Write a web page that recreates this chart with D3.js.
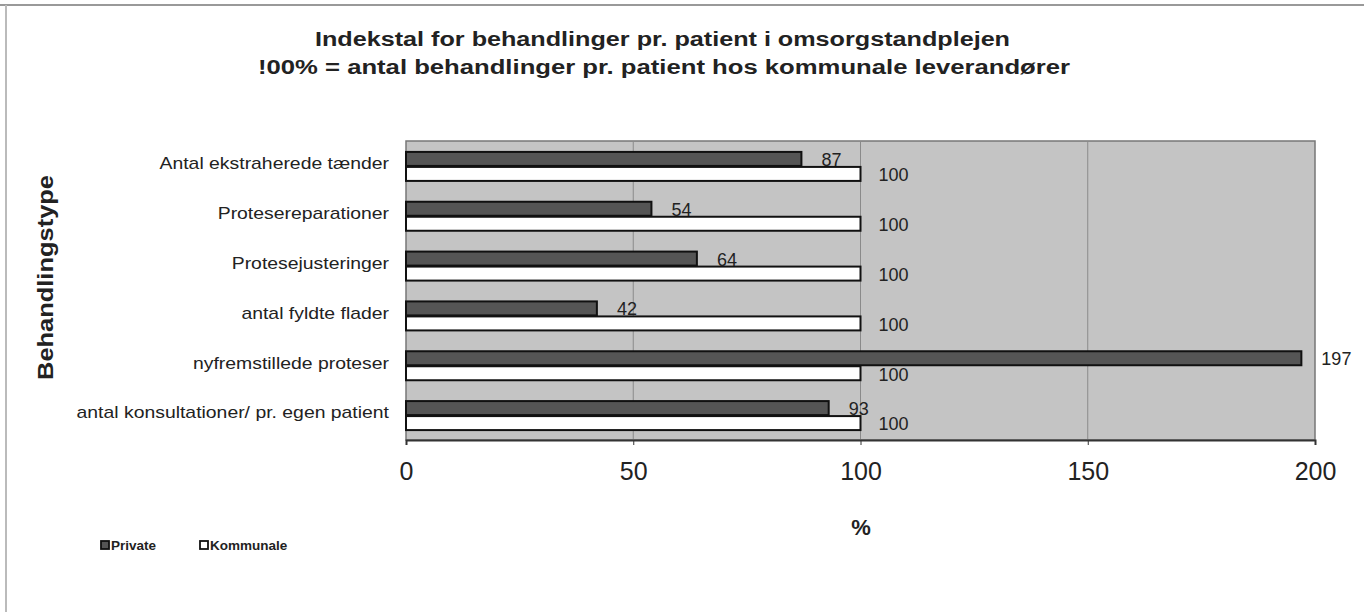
<!DOCTYPE html>
<html><head><meta charset="utf-8">
<script src="https://cdn.jsdelivr.net/npm/d3@7"></script>
<style>body{margin:0;background:#fff;} text{font-family:"Liberation Sans",Arial,sans-serif;}</style>
</head><body>
<svg id="c" width="1364" height="612"></svg>
<script>
const categories = ["Antal ekstraherede tænder","Protesereparationer","Protesejusteringer","antal fyldte flader","nyfremstillede proteser","antal konsultationer/ pr. egen patient"];
const privateVals = [87,54,64,42,197,93];
const kommunaleVals = [100,100,100,100,100,100];
const seriesNames = ["Private","Kommunale"];
const xTicks = [0,50,100,150,200];
const titleLines = ["Indekstal for behandlinger pr. patient i omsorgstandplejen","!00% = antal behandlinger pr. patient hos kommunale leverandører"];

const svg = d3.select("#c");
const m = {l:406, r:1315, t:141, b:440};
// outer frame
svg.append("line").attr("x1",0).attr("x2",1364).attr("y1",5).attr("y2",5).attr("stroke","#999").attr("stroke-width",2);
svg.append("line").attr("x1",6).attr("x2",6).attr("y1",5).attr("y2",612).attr("stroke","#bbb").attr("stroke-width",2);

const x = d3.scaleLinear().domain([0,200]).range([m.l,m.r]);
const y = d3.scaleBand().domain(categories).range([m.t,m.b]);
const bw = y.bandwidth();
const sub = d3.scaleBand().domain(seriesNames).range([bw/2-14, bw/2+16]);

svg.append("rect").attr("x",m.l).attr("y",m.t).attr("width",m.r-m.l).attr("height",m.b-m.t)
  .attr("fill","#c4c4c4").attr("stroke","#777").attr("stroke-width",1.5);

// gridlines
svg.append("g").selectAll("line").data(xTicks.filter(d=>d>0&&d<200)).join("line")
  .attr("x1",d=>x(d)).attr("x2",d=>x(d)).attr("y1",m.t).attr("y2",m.b).attr("stroke","#8a8a8a").attr("stroke-width",1);

// x axis
const xa = svg.append("g").attr("transform",`translate(0,${m.b})`)
  .call(d3.axisBottom(x).tickValues(xTicks).tickSize(5).tickPadding(17).tickFormat(d3.format("d")));
xa.select(".domain").attr("stroke","#333").attr("stroke-width",2);
xa.selectAll(".tick line").attr("stroke","#333");
xa.selectAll("text").attr("font-size",25).attr("fill","#222").attr("font-family","Liberation Sans, Arial");

// y axis labels
const ya = svg.append("g").attr("transform",`translate(${m.l},0)`)
  .call(d3.axisLeft(y).tickSize(0).tickPadding(17));
ya.select(".domain").remove();
ya.selectAll("text").attr("font-size",17).attr("fill","#222").attr("dy","0.2em")
  .each(function(){ const L=this.getComputedTextLength(); d3.select(this).attr("textLength",L*1.14).attr("lengthAdjust","spacingAndGlyphs"); });

// bars
const g = svg.append("g");
const rows = categories.map((c,i)=>({c, p:privateVals[i], k:kommunaleVals[i]}));
g.selectAll(".bp").data(rows).join("rect")
  .attr("x",x(0)).attr("y",d=>y(d.c)+sub("Private")).attr("width",d=>x(d.p)-x(0)).attr("height",sub.bandwidth()-1)
  .attr("fill","#555").attr("stroke","#111").attr("stroke-width",2);
g.selectAll(".bk").data(rows).join("rect")
  .attr("x",x(0)).attr("y",d=>y(d.c)+sub("Kommunale")).attr("width",d=>x(d.k)-x(0)).attr("height",sub.bandwidth()-1)
  .attr("fill","#fff").attr("stroke","#111").attr("stroke-width",2);

// labels
g.selectAll(".lp").data(rows).join("text")
  .attr("x",d=>x(d.p)+20).attr("y",d=>y(d.c)+sub("Private")+sub.bandwidth()-1)
  .attr("font-size",18).attr("fill","#222").text(d=>d.p);
g.selectAll(".lk").data(rows).join("text")
  .attr("x",d=>x(d.k)+18).attr("y",d=>y(d.c)+sub("Kommunale")+sub.bandwidth()/2)
  .attr("dy","0.38em").attr("font-size",18).attr("fill","#222").text(d=>d.k);

// titles
const tl = [{x0:315,x1:1010,yb:46},{x0:258,x1:1070,yb:74}];
titleLines.forEach((t,i)=>svg.append("text").attr("x",tl[i].x0).attr("y",tl[i].yb)
  .attr("textLength",tl[i].x1-tl[i].x0).attr("lengthAdjust","spacingAndGlyphs")
  .attr("font-family","DejaVu Sans, sans-serif").attr("font-size",19.5).attr("font-weight","bold").attr("fill","#222").text(t));
svg.append("text").attr("x",861).attr("y",535).attr("text-anchor","middle").attr("font-size",22).attr("font-weight","bold").attr("fill","#222").text("%");
svg.append("text").attr("transform","translate(53,380) rotate(-90)").attr("textLength",205).attr("lengthAdjust","spacingAndGlyphs")
  .attr("font-size",22).attr("font-weight","bold").attr("fill","#222").text("Behandlingstype");

// legend
const lg = svg.append("g");
const lx = [101,200];
seriesNames.forEach((s,i)=>{
  lg.append("rect").attr("x",lx[i]).attr("y",541).attr("width",8).attr("height",8)
    .attr("fill",i===0?"#555":"#fff").attr("stroke","#111").attr("stroke-width",1.8);
  lg.append("text").attr("x",lx[i]+10).attr("y",550).attr("font-size",13.5).attr("fill","#222").attr("font-weight","bold").text(s);
});
</script>
</body></html>
